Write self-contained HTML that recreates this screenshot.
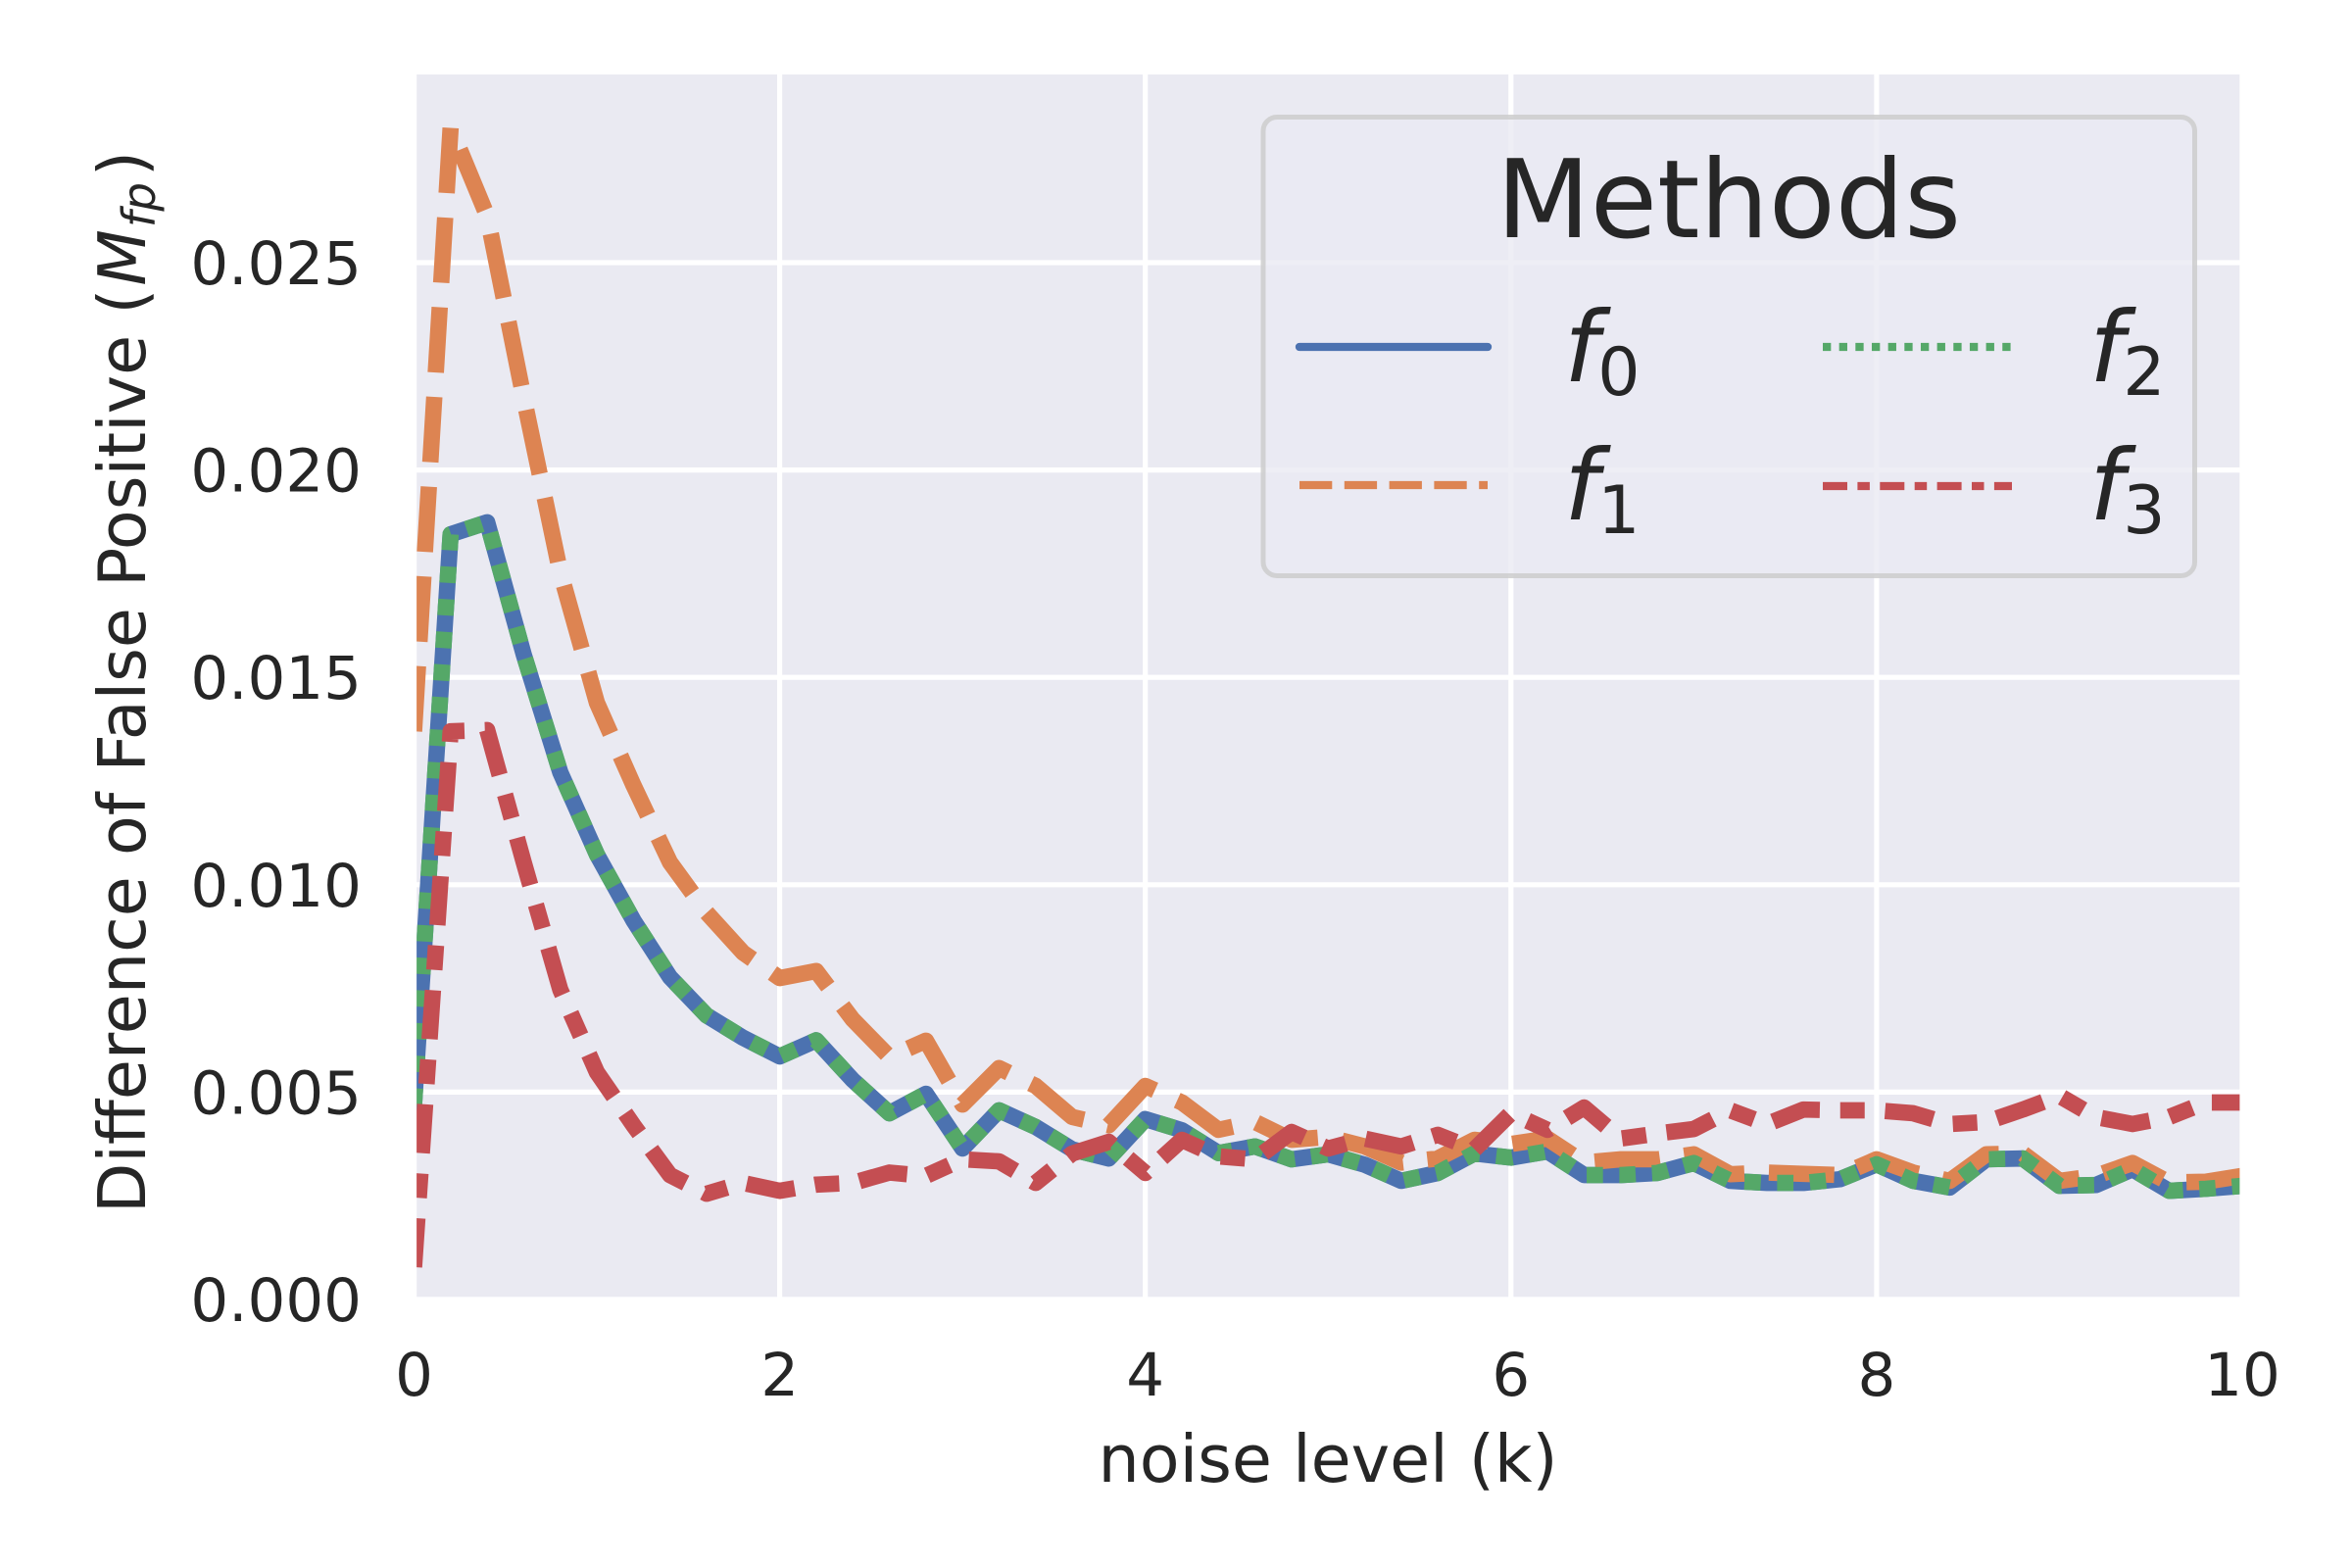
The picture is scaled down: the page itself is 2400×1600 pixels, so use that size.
<!DOCTYPE html>
<html>
<head>
<meta charset="utf-8">
<title>Difference of False Positive vs noise level</title>
<style>
html,body{margin:0;padding:0;background:#fff;}
svg{display:block;}
text{font-family:"DejaVu Sans","Liberation Sans",sans-serif;fill:#262626;}
</style>
</head>
<body>
<svg id="chart" xmlns="http://www.w3.org/2000/svg" width="2400" height="1600" viewBox="0 0 2400 1600">
  <rect x="0" y="0" width="2400" height="1600" fill="#ffffff"/>
  <rect x="422.5" y="73.4" width="1865.5" height="1252.6" fill="#eaeaf2"/>
  <defs>
    <clipPath id="plot-clip"><rect x="422.5" y="73.4" width="1865.5" height="1252.6"/></clipPath>
  </defs>
  <g id="grid"></g>
  <g id="series" clip-path="url(#plot-clip)"></g>
  <rect x="422.5" y="73.4" width="1865.5" height="1252.6" fill="none" stroke="#ffffff" stroke-width="5.2"/>
  <g id="ticks"></g>

  <text x="1355" y="1512" font-size="66.7" text-anchor="middle">noise level (k)</text>
  <text transform="translate(148,1238) rotate(-90)" font-size="66.7">Difference of False Positive (<tspan font-style="italic" dx="3">M</tspan><tspan font-style="italic" font-size="46.7" dy="10" dx="2">fp</tspan><tspan dy="-10" dx="6">)</tspan></text>

  <g>
    <rect x="1289" y="119.5" width="950.5" height="468" rx="14" ry="14" fill="#eaeaf2" fill-opacity="0.8" stroke="#cccccc" stroke-opacity="0.85" stroke-width="5"/>
    <text x="1764" y="242" font-size="111" text-anchor="middle">Methods</text>

    <g>
      <line x1="1326" y1="354" x2="1518" y2="354" stroke="#4c72b0" stroke-width="8.33" stroke-linecap="round"/>
      <text x="1596" y="389" font-size="100"><tspan font-style="italic">f</tspan><tspan font-size="68" dy="14" dx="-1">0</tspan></text>
    </g>
    <g>
      <line x1="1326" y1="495" x2="1518" y2="495" stroke="#dd8452" stroke-width="8.33" stroke-dasharray="33.3 12.5"/>
      <text x="1596" y="530" font-size="100"><tspan font-style="italic">f</tspan><tspan font-size="68" dy="14" dx="-1">1</tspan></text>
    </g>
    <g>
      <line x1="1860" y1="354" x2="2053" y2="354" stroke="#55a868" stroke-width="8.33" stroke-dasharray="8.33 8.33"/>
      <text x="2132" y="389" font-size="100"><tspan font-style="italic">f</tspan><tspan font-size="68" dy="14" dx="-1">2</tspan></text>
    </g>
    <g>
      <line x1="1860" y1="496" x2="2053" y2="496" stroke="#c44e52" stroke-width="8.33" stroke-dasharray="25 10.4 12.5 10.4"/>
      <text x="2132" y="530" font-size="100"><tspan font-style="italic">f</tspan><tspan font-size="68" dy="14" dx="-1">3</tspan></text>
    </g>
  </g>
</svg>

<script>
const noiseLevels = [0,0.2,0.4,0.6,0.8,1,1.2,1.4,1.6,1.8,2,2.2,2.4,2.6,2.8,3,3.2,3.4,3.6,3.8,4,4.2,4.4,4.6,4.8,5,5.2,5.4,5.6,5.8,6,6.2,6.4,6.6,6.8,7,7.2,7.4,7.6,7.8,8,8.2,8.4,8.6,8.8,9,9.2,9.4,9.6,9.8,10];
const f0Values = [0.0047,0.01845,0.01874,0.01555,0.01271,0.01073,0.00914,0.00777,0.00685,0.00631,0.00586,0.00625,0.00529,0.00449,0.00496,0.00364,0.00456,0.00416,0.00362,0.0034,0.00435,0.00408,0.00353,0.00369,0.00338,0.0035,0.00325,0.00286,0.00305,0.00352,0.00342,0.00357,0.003,0.003,0.00305,0.00329,0.00286,0.00281,0.00281,0.0029,0.00326,0.00286,0.0027,0.00338,0.0034,0.00274,0.00276,0.00314,0.00262,0.00267,0.00274];
const f1Values = [0.0137,0.02826,0.02613,0.02174,0.01753,0.01439,0.0124,0.01054,0.00933,0.00836,0.00775,0.00792,0.00675,0.00585,0.00624,0.0047,0.00558,0.00515,0.0044,0.0042,0.00515,0.00475,0.00409,0.00428,0.00385,0.00392,0.00369,0.0033,0.0034,0.00385,0.00375,0.00388,0.0033,0.00338,0.00338,0.0035,0.00302,0.00306,0.00303,0.003,0.00338,0.00306,0.00286,0.0035,0.00352,0.00286,0.00298,0.00329,0.00282,0.00284,0.00298];
const f2Values = [0.0047,0.01845,0.01874,0.01555,0.01271,0.01073,0.00914,0.00777,0.00685,0.00631,0.00586,0.00625,0.00529,0.00449,0.00496,0.00364,0.00456,0.00416,0.00362,0.0034,0.00435,0.00408,0.00353,0.00369,0.00338,0.0035,0.00325,0.00286,0.00305,0.00352,0.00342,0.00357,0.003,0.003,0.00305,0.00329,0.00286,0.00281,0.00281,0.0029,0.00326,0.00286,0.0027,0.00338,0.0034,0.00274,0.00276,0.00314,0.00262,0.00267,0.00274];
const f3Values = [0.00078,0.0137,0.01373,0.01054,0.00747,0.00548,0.0042,0.003,0.00255,0.00281,0.00262,0.00277,0.00281,0.00306,0.00298,0.00338,0.00333,0.00281,0.00352,0.0038,0.00305,0.00385,0.00345,0.00338,0.00404,0.00364,0.00388,0.00369,0.00397,0.00362,0.00449,0.00409,0.00463,0.00388,0.004,0.00411,0.00456,0.00423,0.00458,0.00456,0.00456,0.00449,0.00423,0.00428,0.00458,0.00491,0.0044,0.00423,0.0044,0.00475,0.00475];
const xTickValues = [0,2,4,6,8,10];
const xTickLabels = ["0","2","4","6","8","10"];
const yTickValues = [0,0.005,0.01,0.015,0.02,0.025];
const yTickLabels = ["0.000","0.005","0.010","0.015","0.020","0.025"];

const SVG_NS = "http://www.w3.org/2000/svg";
const plotLeft = 422.5, plotRight = 2288, plotTop = 73.4, plotBottom = 1326;
const xMin = 0, xMax = 10;
const yUnitsPerPixel = 0.005 / 211.6;

function xScale(v) { return plotLeft + (v - xMin) / (xMax - xMin) * (plotRight - plotLeft); }
function yScale(v) { return plotBottom - v / yUnitsPerPixel; }

const gridGroup = document.getElementById("grid");
const ticksGroup = document.getElementById("ticks");
const seriesGroup = document.getElementById("series");

xTickValues.forEach(function (v, i) {
  const gridLine = document.createElementNS(SVG_NS, "line");
  
  
  gridLine.setAttribute("x1", xScale(v));
  gridLine.setAttribute("x2", xScale(v));
  gridLine.setAttribute("y1", plotTop);
  gridLine.setAttribute("y2", plotBottom);
  gridLine.setAttribute("stroke", "#ffffff");
  gridLine.setAttribute("stroke-width", "5.2");
  gridGroup.appendChild(gridLine);

  const label = document.createElementNS(SVG_NS, "text");
  
  
  label.setAttribute("x", xScale(v));
  label.setAttribute("y", 1424);
  label.setAttribute("font-size", "61");
  label.setAttribute("text-anchor", "middle");
  label.textContent = xTickLabels[i];
  ticksGroup.appendChild(label);
});

yTickValues.forEach(function (v, i) {
  const gridLine = document.createElementNS(SVG_NS, "line");
  
  
  gridLine.setAttribute("x1", plotLeft);
  gridLine.setAttribute("x2", plotRight);
  gridLine.setAttribute("y1", yScale(v));
  gridLine.setAttribute("y2", yScale(v));
  gridLine.setAttribute("stroke", "#ffffff");
  gridLine.setAttribute("stroke-width", "5.2");
  gridGroup.appendChild(gridLine);

  const label = document.createElementNS(SVG_NS, "text");
  
  
  label.setAttribute("x", 369);
  label.setAttribute("y", yScale(v) + 22);
  label.setAttribute("font-size", "61");
  label.setAttribute("text-anchor", "end");
  label.textContent = yTickLabels[i];
  ticksGroup.appendChild(label);
});

function linePath(values) {
  return values.map(function (v, i) {
    return (i === 0 ? "M" : "L") + xScale(noiseLevels[i]).toFixed(2) + " " + yScale(v).toFixed(2);
  }).join(" ");
}

function drawSeries(name, values, color, dash, cap) {
  const path = document.createElementNS(SVG_NS, "path");
  
  
  path.setAttribute("d", linePath(values));
  path.setAttribute("fill", "none");
  path.setAttribute("stroke", color);
  path.setAttribute("stroke-width", "16.67");
  path.setAttribute("stroke-linejoin", "round");
  path.setAttribute("stroke-linecap", cap);
  if (dash) path.setAttribute("stroke-dasharray", dash);
  seriesGroup.appendChild(path);
}

drawSeries("series-f0-line", f0Values, "#4c72b0", null, "round");
drawSeries("series-f1-line", f1Values, "#dd8452", "66.7 25", "butt");
drawSeries("series-f2-line", f2Values, "#55a868", "16.67 16.67", "butt");
drawSeries("series-f3-line", f3Values, "#c44e52", "50 20.8 25 20.8", "butt");
</script>
</body>
</html>
